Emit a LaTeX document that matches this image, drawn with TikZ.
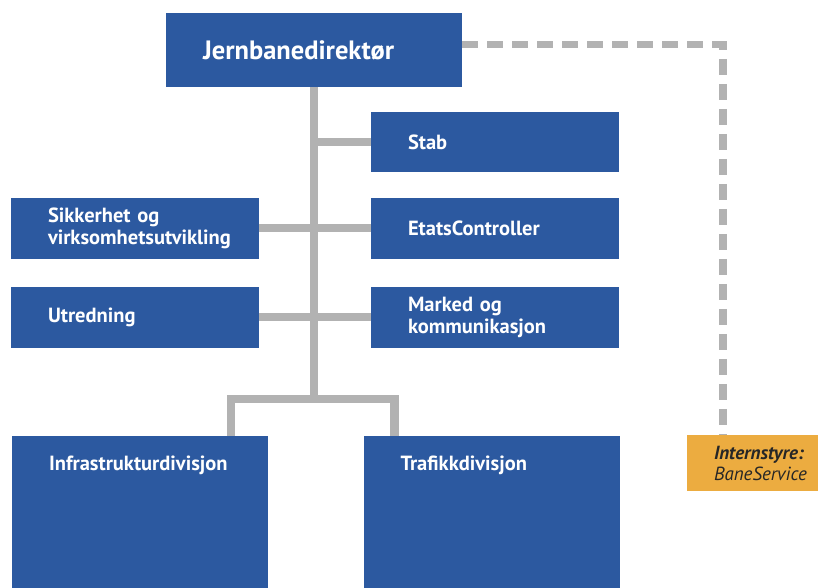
\documentclass[tikz,border=0pt]{standalone}
\usepackage{fontspec}
\setmainfont{PT Sans}
\definecolor{unitblue}{RGB}{44,89,160}
\definecolor{boardorange}{RGB}{236,172,64}
\definecolor{linkgray}{RGB}{178,178,178}
\tikzset{unit/.style={fill=unitblue, text=white, font=\bfseries\fontsize{20.5}{22}\selectfont,
    inner xsep=37pt, inner ysep=0pt, text width=174pt, minimum height=61pt, align=left},
  division/.style={unit, text width=182pt, text height=34pt, text depth=120pt},
  board/.style={fill=boardorange, text=black!85, font=\itshape\fontsize{19}{21}\selectfont,
    inner xsep=27pt, inner ysep=0pt, text width=81pt, minimum height=56pt, align=left},
  link/.style={draw=linkgray, line width=8.5pt},
  boardlink/.style={draw=linkgray, line width=7.5pt, dash pattern=on 16pt off 9pt}}

\begin{document}
\begin{tikzpicture}[x=1pt, y=-1pt]
  \useasboundingbox (0,0) rectangle (818,587);
  \node[unit, text width=222pt, minimum height=74pt, font=\bfseries\fontsize{26.5}{28}\selectfont] (dir) at (314,50) {Jernbanedirektør};
  \node[unit, minimum height=60pt] (stab) at (495,142) {Stab};
  \node[unit] (ctrl) at (495,228) {EtatsController};
  \node[unit] (sik) at (135,228) {Sikkerhet og\\virksomhetsutvikling};
  \node[unit] (utr) at (135,317) {Utredning};
  \node[unit] (mkt) at (495,317) {Marked og\\kommunikasjon};
  \node[division] (infra) at (140,513) {Infrastrukturdivisjon};
  \node[division] (traf) at (491.5,513) {Trafikkdivisjon};
  \node[board] (intern) at (754.5,463) {\textbf{Internstyre:}\\BaneService};
  \path (dir.south) ++(0,312) coordinate (split);
  \draw[link] (dir.south) -- (split);
  \draw[link] (stab.west) -- (stab.west -| split);
  \draw[link] (sik.east) -- (ctrl.west);
  \draw[link] (utr.east) -- (mkt.west);
  \draw[link] ([xshift=219pt]infra.north west) |- (split) -| ([xshift=31pt]traf.north west);
  \draw[boardlink] ([yshift=5.5pt]dir.east) -| ([xshift=36pt]intern.north west);
\end{tikzpicture}
\end{document}
